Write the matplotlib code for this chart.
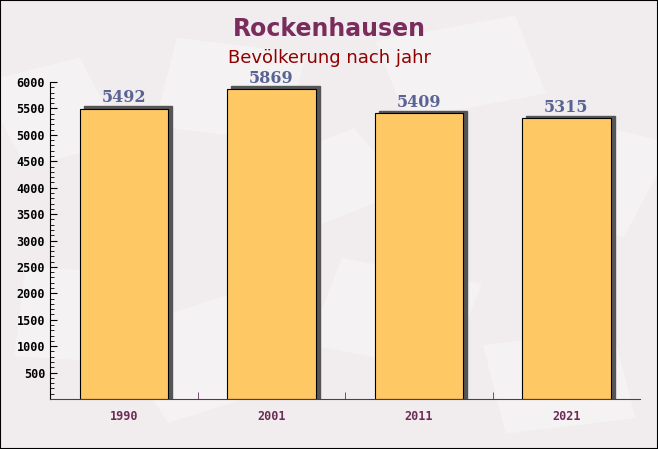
import matplotlib.pyplot as plt
import matplotlib.patches as mpatches
import numpy as np

# Einwohner Rockenhausen
jahre = ['1990', '2001', '2011', '2021']
einwohner = [5492, 5869, 5409, 5315]

fig = plt.figure(figsize=(6.58, 4.49), dpi=100)
fig.patch.set_facecolor('#f1edef')

# dezentes Hintergrundmuster (Briefumschläge)
for cx, cy, w, h, ang in [(0.08, 0.75, 0.16, 0.2, 20), (0.35, 0.8, 0.2, 0.2, -10),
                          (0.7, 0.85, 0.22, 0.18, 15), (0.92, 0.6, 0.14, 0.22, -20),
                          (0.3, 0.2, 0.2, 0.22, 25), (0.6, 0.3, 0.22, 0.2, -15),
                          (0.85, 0.15, 0.2, 0.2, 10), (0.1, 0.3, 0.14, 0.2, -5),
                          (0.5, 0.6, 0.18, 0.16, 30)]:
    r = mpatches.Rectangle((cx - w/2, cy - h/2), w, h, angle=ang, rotation_point='center',
                           transform=fig.transFigure, facecolor='white', alpha=0.3,
                           edgecolor='none', zorder=0)
    fig.add_artist(r)

ax = fig.add_axes([50/658, 1 - 399/449, 590/658, (399 - 82)/449])
ax.set_facecolor('none')

x = np.arange(len(jahre))
width = 0.6
# Schatten
dx, dy = 0.03, 50
for xi, val in zip(x, einwohner):
    ax.add_patch(mpatches.Rectangle((xi - width/2 + dx, 0), width, val + dy,
                                    color='#555555', zorder=1))
ax.bar(x, einwohner, width, color='#fec864', edgecolor='black', linewidth=0.8, zorder=2)

for xi, val in zip(x, einwohner):
    ax.text(xi, val + 45, str(val), ha='center', va='bottom', fontsize=11.5,
            fontweight='bold', color='#5a6494', family='DejaVu Serif')

ax.set_xlim(-0.5, 3.5)
ax.set_ylim(0, 6000)
ax.set_yticks(np.arange(500, 6001, 500))
ax.set_yticks(np.arange(0, 6001, 100), minor=True)
ax.set_xticks(x)
ax.set_xticklabels(jahre)
ax.set_xticks([0.5, 1.5, 2.5], minor=True)
ax.tick_params(axis='x', which='major', length=0, pad=8, labelsize=8.5, labelcolor='#6b2d55')
ax.tick_params(axis='x', which='minor', length=5, direction='in', color='#6b2d55')
ax.tick_params(axis='y', which='major', length=5, labelsize=8.5, direction='in')
ax.tick_params(axis='y', which='minor', length=3, direction='in')
for lab in ax.get_xticklabels() + ax.get_yticklabels():
    lab.set_fontweight('bold')
    lab.set_family('DejaVu Sans Mono')
ax.spines['top'].set_visible(False)
ax.spines['right'].set_visible(False)
ax.spines['bottom'].set_color('#6b2d55')

fig.text(0.5, 1 - 29/449, 'Rockenhausen', ha='center', va='center', fontsize=17,
         fontweight='bold', color='#7a2c5c')
fig.text(0.5, 1 - 58/449, 'Bevölkerung nach jahr', ha='center', va='center',
         fontsize=13, color='#900000')

fig.add_artist(mpatches.Rectangle((0, 0), 1, 1, transform=fig.transFigure,
                                  fill=False, edgecolor='black', linewidth=1.5))

plt.savefig('out.png', dpi=100)
plt.close()
